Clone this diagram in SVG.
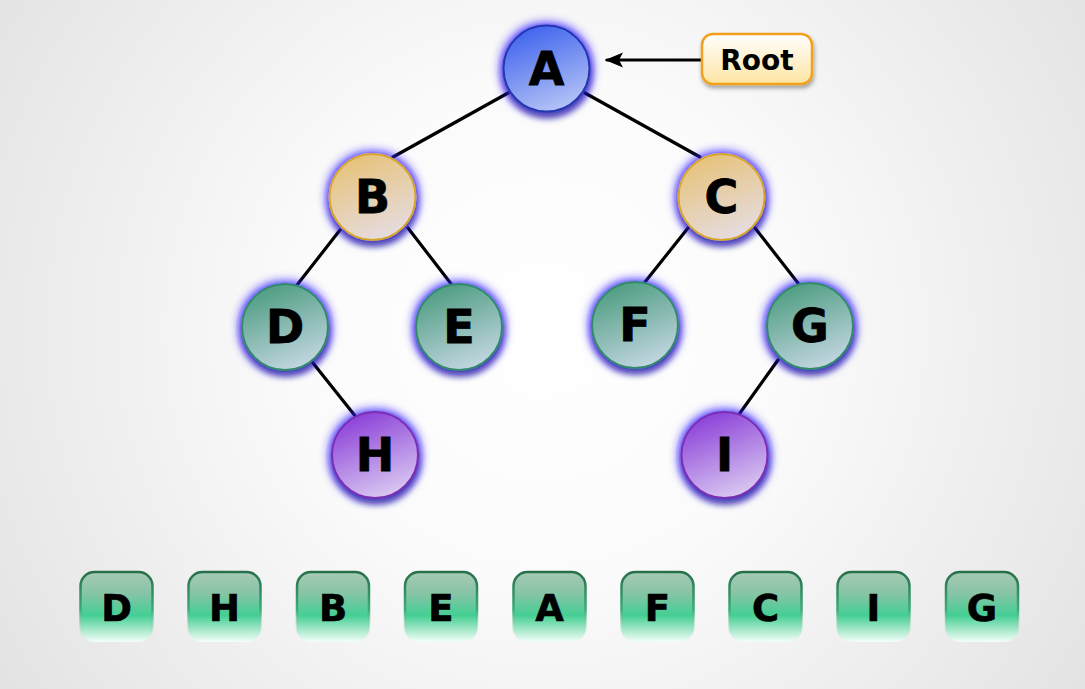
<svg xmlns="http://www.w3.org/2000/svg" width="1085" height="689" viewBox="0 0 1085 689">
<defs>
<radialGradient id="bg" cx="545" cy="330" r="700" gradientUnits="userSpaceOnUse">
<stop offset="0" stop-color="#ffffff"/>
<stop offset="0.35" stop-color="#fbfbfb"/>
<stop offset="1" stop-color="#e0e0e0"/>
</radialGradient>
<linearGradient id="gA" x1="0.3" y1="0" x2="0.7" y2="1">
<stop offset="0" stop-color="#3f63ee"/>
<stop offset="1" stop-color="#b8c6f6"/>
</linearGradient>
<linearGradient id="gB" x1="0.3" y1="0" x2="0.7" y2="1">
<stop offset="0" stop-color="#e6c278"/>
<stop offset="1" stop-color="#e6dde4"/>
</linearGradient>
<linearGradient id="gD" x1="0.3" y1="0" x2="0.7" y2="1">
<stop offset="0" stop-color="#4c9c80"/>
<stop offset="1" stop-color="#c6d8e4"/>
</linearGradient>
<linearGradient id="gH" x1="0.3" y1="0" x2="0.7" y2="1">
<stop offset="0" stop-color="#8a3ed8"/>
<stop offset="1" stop-color="#dccdf2"/>
</linearGradient>
<linearGradient id="gRoot" x1="0" y1="0" x2="0" y2="1">
<stop offset="0" stop-color="#ffffff"/>
<stop offset="1" stop-color="#fde4a2"/>
</linearGradient>
<linearGradient id="gBox" x1="0" y1="0" x2="0" y2="1">
<stop offset="0" stop-color="#a6cab4"/>
<stop offset="0.3" stop-color="#88c4a6"/>
<stop offset="0.62" stop-color="#44cf94"/>
<stop offset="0.82" stop-color="#a4e8c8"/>
<stop offset="1" stop-color="#f4fefa"/>
</linearGradient>
<linearGradient id="gBoxS" x1="0" y1="0" x2="0" y2="1">
<stop offset="0" stop-color="#276f4a"/>
<stop offset="0.55" stop-color="#3fae7c"/>
<stop offset="1" stop-color="#e6f8ef" stop-opacity="0"/>
</linearGradient>
<filter id="glow" x="-40%" y="-40%" width="180%" height="180%">
<feMorphology in="SourceAlpha" operator="dilate" radius="2" result="d"/>
<feGaussianBlur in="d" stdDeviation="5" result="b"/>
<feFlood flood-color="#3422ff" flood-opacity="0.9"/>
<feComposite in2="b" operator="in" result="glow"/>
<feGaussianBlur in="SourceAlpha" stdDeviation="3" result="s"/>
<feOffset in="s" dx="1" dy="6" result="so"/>
<feFlood flood-color="#000030" flood-opacity="0.5"/>
<feComposite in2="so" operator="in" result="shadow"/>
<feMerge><feMergeNode in="glow"/><feMergeNode in="shadow"/><feMergeNode in="SourceGraphic"/></feMerge>
</filter>
<filter id="shadow" x="-20%" y="-30%" width="140%" height="170%">
<feGaussianBlur in="SourceAlpha" stdDeviation="2" result="s"/>
<feOffset in="s" dx="1" dy="3" result="so"/>
<feFlood flood-color="#000" flood-opacity="0.35"/>
<feComposite in2="so" operator="in" result="sh"/>
<feMerge><feMergeNode in="sh"/><feMergeNode in="SourceGraphic"/></feMerge>
</filter>
<marker id="arrow" viewBox="0 0 18 16" refX="16" refY="8" markerWidth="18" markerHeight="16" markerUnits="userSpaceOnUse" orient="auto">
<path d="M18,8 L0,0.5 L4,8 L0,15.5 Z" fill="#000"/>
</marker>
</defs>
<style>
.nl{font-family:"DejaVu Sans",Verdana,sans-serif;font-weight:bold;font-size:46px;fill:#000;stroke:#000;stroke-width:0.8;text-anchor:middle}
.bl{font-family:"DejaVu Sans",Verdana,sans-serif;font-weight:bold;font-size:37px;fill:#000;stroke:#000;stroke-width:0.6;text-anchor:middle}
.edge{stroke:#000;stroke-width:3.2;fill:none;stroke-linecap:round}
.box{fill:url(#gBox);stroke:url(#gBoxS);stroke-width:2.5}
</style>
<rect x="0" y="0" width="1085" height="689" fill="url(#bg)"/>
<g id="connectors">
<line class="edge" x1="508" y1="93" x2="393" y2="157"/>
<line class="edge" x1="585" y1="93" x2="700" y2="157"/>
<line class="edge" x1="340" y1="230" x2="297" y2="285"/>
<line class="edge" x1="408" y1="228" x2="452" y2="285"/>
<line class="edge" x1="688" y1="228" x2="645" y2="282"/>
<line class="edge" x1="755" y1="228" x2="798" y2="283"/>
<line class="edge" x1="313" y1="363" x2="356" y2="417"/>
<line class="edge" x1="778" y1="360" x2="740" y2="413"/>
<line class="edge" x1="702" y1="60" x2="607" y2="60" stroke-linecap="butt" marker-end="url(#arrow)"/>
</g>
<g id="node-A"><circle cx="546.5" cy="68.5" r="43" fill="url(#gA)" stroke="#2238b0" stroke-width="2" filter="url(#glow)"/><text class="nl" x="546.5" y="85">A</text></g>
<g id="node-B"><circle cx="372.5" cy="197" r="43" fill="url(#gB)" stroke="#d6a523" stroke-width="2" filter="url(#glow)"/><text class="nl" x="372.5" y="213">B</text></g>
<g id="node-C"><circle cx="721.5" cy="197" r="43" fill="url(#gB)" stroke="#d6a523" stroke-width="2" filter="url(#glow)"/><text class="nl" x="721.5" y="213">C</text></g>
<g id="node-D"><circle cx="285" cy="327" r="43" fill="url(#gD)" stroke="#33896a" stroke-width="2" filter="url(#glow)"/><text class="nl" x="285" y="343">D</text></g>
<g id="node-E"><circle cx="459" cy="327" r="43" fill="url(#gD)" stroke="#33896a" stroke-width="2" filter="url(#glow)"/><text class="nl" x="459" y="343">E</text></g>
<g id="node-F"><circle cx="635" cy="325" r="43" fill="url(#gD)" stroke="#33896a" stroke-width="2" filter="url(#glow)"/><text class="nl" x="635" y="341">F</text></g>
<g id="node-G"><circle cx="810" cy="326" r="43" fill="url(#gD)" stroke="#33896a" stroke-width="2" filter="url(#glow)"/><text class="nl" x="810" y="342">G</text></g>
<g id="node-H"><circle cx="375" cy="455" r="43" fill="url(#gH)" stroke="#7a2fb2" stroke-width="2" filter="url(#glow)"/><text class="nl" x="375" y="471">H</text></g>
<g id="node-I"><circle cx="724.5" cy="455" r="43" fill="url(#gH)" stroke="#7a2fb2" stroke-width="2" filter="url(#glow)"/><text class="nl" x="724.5" y="471">I</text></g>
<g id="root-label"><rect x="702" y="34" width="110" height="50" rx="11" fill="url(#gRoot)" stroke="#f2a11d" stroke-width="2.5" filter="url(#shadow)"/><text x="757" y="69.5" font-family="DejaVu Sans,Verdana,sans-serif" font-weight="bold" font-size="28" text-anchor="middle" fill="#000">Root</text></g>
<g id="sequence">
<g id="seq-1"><rect class="box" x="80.5" y="572" width="72" height="70" rx="14"/><text class="bl" x="116.5" y="621">D</text></g>
<g id="seq-2"><rect class="box" x="188.5" y="572" width="72" height="70" rx="14"/><text class="bl" x="224.5" y="621">H</text></g>
<g id="seq-3"><rect class="box" x="297" y="572" width="72" height="70" rx="14"/><text class="bl" x="333" y="621">B</text></g>
<g id="seq-4"><rect class="box" x="405" y="572" width="72" height="70" rx="14"/><text class="bl" x="441" y="621">E</text></g>
<g id="seq-5"><rect class="box" x="513.5" y="572" width="72" height="70" rx="14"/><text class="bl" x="549.5" y="621">A</text></g>
<g id="seq-6"><rect class="box" x="621.5" y="572" width="72" height="70" rx="14"/><text class="bl" x="657.5" y="621">F</text></g>
<g id="seq-7"><rect class="box" x="729.5" y="572" width="72" height="70" rx="14"/><text class="bl" x="765.5" y="621">C</text></g>
<g id="seq-8"><rect class="box" x="837.5" y="572" width="72" height="70" rx="14"/><text class="bl" x="873.5" y="621">I</text></g>
<g id="seq-9"><rect class="box" x="946" y="572" width="72" height="70" rx="14"/><text class="bl" x="982" y="621">G</text></g>
</g>
</svg>
